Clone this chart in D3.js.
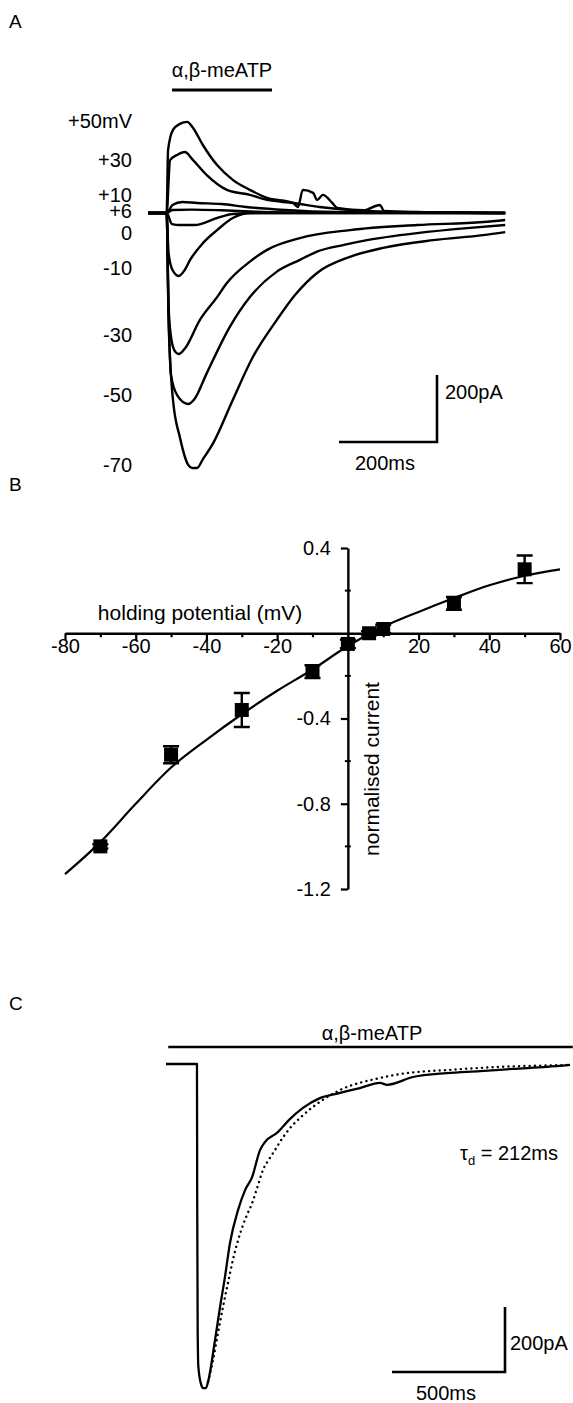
<!DOCTYPE html>
<html>
<head>
<meta charset="utf-8">
<script src="https://cdn.jsdelivr.net/npm/d3@7"></script>
<style>
  body { margin: 0; background: #fff; }
  svg text { font-family: "Liberation Sans", Arial, Helvetica, sans-serif; fill: #000; }
</style>
</head>
<body>
<div id="fig"></div>
<script>
// ---- Panel A: currents at each holding potential, [time ms, current pA]
const traceP50 = [[0,0],[38,0],[41,188],[51,248],[65,266],[80,272],[92,254],[112,203],[141,143],[173,99],[208,69],[243,45],[296,30],[306,18],[316,69],[337,60],[345,39],[357,54],[376,30],[386,15],[440,8],[473,24],[482,6],[550,3],[729,0]];
const traceP30 = [[0,0],[38,0],[45,158],[59,173],[75,182],[92,158],[120,113],[161,69],[208,54],[243,39],[296,30],[350,18],[420,8],[500,3],[729,0]];
const traceP10 = [[0,0],[38,0],[50,24],[70,33],[100,30],[150,27],[200,18],[280,9],[380,3],[729,0]];
const traceP6 = [[0,0],[38,0],[50,9],[90,10],[150,8],[220,4],[320,1],[729,0]];
const trace0 = [[0,0],[38,0],[49,-33],[65,-36],[95,-36],[141,-15],[173,-3],[230,0],[729,0]];
const traceM10 = [[0,0],[38,0],[42,-120],[50,-170],[63,-188],[75,-170],[86,-140],[112,-90],[141,-51],[173,-15],[208,0],[729,0]];
const traceM30 = [[0,0],[38,0],[42,-280],[48,-380],[56,-415],[63,-421],[75,-405],[106,-319],[141,-251],[161,-209],[208,-145],[243,-110],[310,-75],[412,-51],[549,-36],[684,-27],[729,-21]];
const traceM50 = [[0,0],[38,0],[42,-300],[47,-484],[60,-545],[82,-570],[95,-555],[120,-478],[167,-340],[208,-251],[263,-175],[310,-140],[345,-115],[400,-95],[447,-81],[549,-60],[651,-45],[729,-36]];
const traceM70 = [[0,0],[38,0],[42,-320],[51,-558],[65,-669],[82,-752],[90,-761],[100,-761],[112,-735],[133,-687],[173,-558],[214,-430],[263,-319],[300,-245],[345,-179],[412,-131],[480,-104],[582,-81],[684,-66],[729,-57]];
const tracesA = [traceP50, traceP30, traceP10, traceP6, trace0, traceM10, traceM30, traceM50, traceM70];
const labelsA = ["+50mV", "+30", "+10", "+6", "0", "-10", "-30", "-50", "-70"];
const agonistA = [49, 253];          // application bar, ms

// ---- Panel B: I-V relation
const holdingPotential = [-70, -50, -30, -10, 0, 6, 10, 30, 50];
const normCurrent      = [-1.0, -0.57, -0.36, -0.18, -0.05, 0.0, 0.02, 0.14, 0.30];
const normCurrentErr   = [0.01, 0.04, 0.08, 0.03, 0.02, 0.01, 0.02, 0.03, 0.065];
const fitPotential = [-80, -70, -60, -50, -40, -30, -20, -10, 0, 10, 20, 30, 40, 50, 60];
const fitCurrent   = [-1.13, -0.98, -0.80, -0.63, -0.50, -0.38, -0.27, -0.17, -0.06, 0.03, 0.10, 0.165, 0.225, 0.27, 0.30];
const xTicksB = [-80, -60, -40, -20, 0, 20, 40, 60];
const xMinorB = [-70, -50, -30, -10, 10, 30, 50];
const yTicksB = [0.4, -0.4, -0.8, -1.2];
const yMinorB = [0.2, -0.2, -0.6, -1.0];

// ---- Panel C: single response and exponential fit, [time ms, current pA]
const traceC = [[0,0],[137,0],[138,-400],[140,-800],[143,-930],[155,-985],[164,-997],[177,-997],[186,-978],[217,-849],[239,-748],[261,-655],[283,-551],[319,-449],[350,-388],[381,-348],[416,-265],[438,-240],[491,-212],[549,-169],[606,-135],[681,-105],[770,-89],[858,-74],[947,-58],[978,-64],[1093,-40],[1243,-28],[1389,-22],[1535,-15],[1686,-9],[1788,-3]];
const fitC = [[186,-978],[208,-911],[230,-828],[252,-748],[274,-674],[296,-603],[319,-542],[341,-495],[358,-465],[381,-428],[403,-382],[429,-326],[460,-289],[482,-265],[504,-240],[549,-197],[593,-166],[650,-132],[770,-80],[947,-43],[1035,-31],[1257,-18],[1478,-9],[1788,-3]];
const agonistC = [10, 1800];

const W = 573, H = 1403;
const svg = d3.select("#fig").append("svg")
    .attr("width", W).attr("height", H)
    .attr("viewBox", [0, 0, W, H]);
svg.append("rect").attr("width", W).attr("height", H).attr("fill", "#fff");

const fs = 20;

// panel letters
[["A", 28], ["B", 491], ["C", 1010]].forEach(function (p) {
    svg.append("text").attr("x", 9).attr("y", p[1]).attr("font-size", 19).text(p[0]);
});

// ================= Panel A =================
const xA = d3.scaleLinear().domain([0, 200]).range([148, 246]);
const yA = d3.scaleLinear().domain([0, -200]).range([213, 280]);
const lineA = d3.line()
    .x(function (d) { return xA(d[0]); })
    .y(function (d) { return yA(d[1]); })
    .curve(d3.curveMonotoneX);

const gA = svg.append("g");
gA.selectAll("path.trace")
    .data(tracesA)
    .enter().append("path")
    .attr("class", "trace")
    .attr("d", lineA)
    .attr("fill", "none")
    .attr("stroke", "#000")
    .attr("stroke-width", 2.4)
    .attr("stroke-linejoin", "round");

// trace labels
const labelBaselines = [128, 167, 202, 218, 240, 275, 342, 402, 472];
gA.selectAll("text.vlab")
    .data(labelsA)
    .enter().append("text")
    .attr("class", "vlab")
    .attr("x", 132)
    .attr("y", function (d, i) { return labelBaselines[i]; })
    .attr("text-anchor", "end")
    .attr("font-size", fs)
    .text(function (d) { return d; });

// agonist bar
gA.append("line")
    .attr("x1", xA(agonistA[0])).attr("x2", xA(agonistA[1]))
    .attr("y1", 90).attr("y2", 90)
    .attr("stroke", "#000").attr("stroke-width", 3.2);
gA.append("text")
    .attr("x", (xA(agonistA[0]) + xA(agonistA[1])) / 2).attr("y", 77)
    .attr("text-anchor", "middle").attr("font-size", fs)
    .text("α,β-meATP");

// scale bars A: 200 ms, 200 pA
const sbAx = 437, sbAy = 442;
gA.append("path")
    .attr("d", "M" + (sbAx - (xA(200) - xA(0))) + "," + sbAy + "H" + sbAx + "V" + (sbAy - (yA(0) - yA(200))))
    .attr("fill", "none").attr("stroke", "#000").attr("stroke-width", 2.6);
gA.append("text").attr("x", 445).attr("y", 399).attr("font-size", fs).text("200pA");
gA.append("text").attr("x", 385).attr("y", 470).attr("text-anchor", "middle").attr("font-size", fs).text("200ms");

// ================= Panel B =================
const xB = d3.scaleLinear().domain([-80, 60]).range([65, 560]);
const yB = d3.scaleLinear().domain([-1.2, 0.4]).range([889, 548]);
const gB = svg.append("g");

const xAxisB = d3.axisBottom(xB)
    .tickValues(xTicksB)
    .tickSize(7).tickSizeOuter(0).tickPadding(-1)
    .tickFormat(function (d) { return d === 0 ? "" : String(d); });
const gx = gB.append("g")
    .attr("transform", "translate(0," + yB(0) + ")")
    .call(xAxisB);
gx.selectAll(".tick")
    .filter(function (d) { return d === 0; })
    .select("line").remove();

gB.append("g")
    .attr("transform", "translate(0," + yB(0) + ")")
    .call(d3.axisBottom(xB).tickValues(xMinorB).tickSize(4).tickSizeOuter(0).tickFormat(""))
    .select(".domain").remove();

const yAxisB = d3.axisLeft(yB)
    .tickValues(yTicksB)
    .tickSize(7).tickSizeOuter(0).tickPadding(10)
    .tickFormat(function (d) { return d.toFixed(1); });
const gy = gB.append("g")
    .attr("transform", "translate(" + xB(0) + ",0)")
    .call(yAxisB);

// small minor marks across the vertical axis
gB.selectAll("line.yminor")
    .data(yMinorB)
    .enter().append("line")
    .attr("class", "yminor")
    .attr("x1", xB(0) - 3).attr("x2", xB(0) + 3)
    .attr("y1", function (d) { return yB(d); })
    .attr("y2", function (d) { return yB(d); })
    .attr("stroke", "#000").attr("stroke-width", 2);

[gx, gy].forEach(function (g) {
    g.selectAll(".domain, .tick line").attr("stroke", "#000").attr("stroke-width", 2.4);
    g.selectAll("text").attr("font-size", fs).attr("font-family", "Liberation Sans, Arial, sans-serif").attr("fill", "#000");
});
gB.selectAll("g .tick line").attr("stroke", "#000").attr("stroke-width", 2.2);

gB.append("text")
    .attr("x", 200).attr("y", 620)
    .attr("text-anchor", "middle").attr("font-size", 21)
    .text("holding potential (mV)");
gB.append("text")
    .attr("transform", "translate(379,769) rotate(-90)")
    .attr("text-anchor", "middle").attr("font-size", 21)
    .text("normalised current");

// fit curve
const fitB = fitPotential.map(function (v, i) { return [v, fitCurrent[i]]; });
gB.append("path")
    .datum(fitB)
    .attr("d", d3.line()
        .x(function (d) { return xB(d[0]); })
        .y(function (d) { return yB(d[1]); })
        .curve(d3.curveMonotoneX))
    .attr("fill", "none").attr("stroke", "#000").attr("stroke-width", 2.2);

// error bars + squares
const pts = holdingPotential.map(function (v, i) {
    return { v: v, c: normCurrent[i], e: normCurrentErr[i] };
});
const eb = gB.selectAll("g.pt").data(pts).enter().append("g").attr("class", "pt");
eb.append("path")
    .attr("d", function (d) {
        const x = xB(d.v), y1 = yB(d.c + d.e), y2 = yB(d.c - d.e);
        return "M" + x + "," + y1 + "V" + y2 +
            "M" + (x - 8) + "," + y1 + "H" + (x + 8) +
            "M" + (x - 8) + "," + y2 + "H" + (x + 8);
    })
    .attr("fill", "none").attr("stroke", "#000").attr("stroke-width", 2.4);
eb.append("rect")
    .attr("x", function (d) { return xB(d.v) - 7; })
    .attr("y", function (d) { return yB(d.c) - 7; })
    .attr("width", 14).attr("height", 14)
    .attr("fill", "#000");

// ================= Panel C =================
const xC = d3.scaleLinear().domain([0, 500]).range([166, 279]);
const yC = d3.scaleLinear().domain([0, -200]).range([1064, 1129]);
const lineC = d3.line()
    .x(function (d) { return xC(d[0]); })
    .y(function (d) { return yC(d[1]); })
    .curve(d3.curveMonotoneX);
const gC = svg.append("g");

gC.append("line")
    .attr("x1", xC(agonistC[0])).attr("x2", xC(agonistC[1]))
    .attr("y1", 1047).attr("y2", 1047)
    .attr("stroke", "#000").attr("stroke-width", 2.6);
gC.append("text")
    .attr("x", 372).attr("y", 1040)
    .attr("text-anchor", "middle").attr("font-size", fs)
    .text("α,β-meATP");

gC.append("path").datum(fitC)
    .attr("d", lineC)
    .attr("fill", "none").attr("stroke", "#000")
    .attr("stroke-width", 2.4)
    .attr("stroke-linecap", "round")
    .attr("stroke-dasharray", "0.1 5.2");

gC.append("path").datum(traceC)
    .attr("d", lineC)
    .attr("fill", "none").attr("stroke", "#000")
    .attr("stroke-width", 2.3)
    .attr("stroke-linejoin", "round");

const tau = gC.append("text")
    .attr("x", 558).attr("y", 1160)
    .attr("text-anchor", "end").attr("font-size", fs);
tau.append("tspan").text("τ");
tau.append("tspan").attr("dy", 5).attr("font-size", 13).text("d");
tau.append("tspan").attr("dy", -5).text(" = 212ms");

// scale bars C: 500 ms, 200 pA
const sbCx = 505, sbCy = 1372;
gC.append("path")
    .attr("d", "M" + (sbCx - (xC(500) - xC(0))) + "," + sbCy + "H" + sbCx + "V" + (sbCy - (yC(-200) - yC(0))))
    .attr("fill", "none").attr("stroke", "#000").attr("stroke-width", 2.6);
gC.append("text").attr("x", 510).attr("y", 1350).attr("font-size", fs).text("200pA");
gC.append("text").attr("x", 446).attr("y", 1400).attr("text-anchor", "middle").attr("font-size", fs).text("500ms");
</script>
</body>
</html>
